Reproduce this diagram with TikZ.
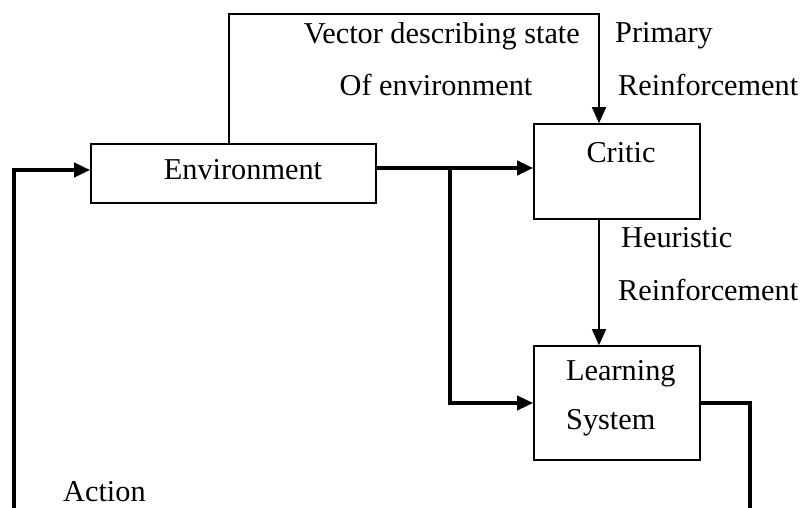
\documentclass[tikz,border=0pt]{standalone}
\usepackage{fontspec}
\setmainfont{Liberation Serif}
\usetikzlibrary{arrows.meta}
\begin{document}
\begin{tikzpicture}[x=1pt,y=-1pt,
  block/.style={draw,line width=1.6pt,inner sep=0pt},
  lbl/.style={inner sep=0pt,font=\fontsize{30.3}{34}\selectfont},
  thin/.style={line width=1.6pt},
  thick/.style={line width=3.6pt},
  tip/.style={-{Triangle[length=16pt,width=14pt]}}]
\useasboundingbox (0,0) rectangle (807,508);
% blocks
\node[block,minimum width=285pt,minimum height=59pt] (env) at (233.5,173.5) {};
\node[block,minimum width=166pt,minimum height=95pt] (critic) at (617,171.5) {};
\node[block,minimum width=166pt,minimum height=114pt] (learn) at (617,403) {};
% block texts
\node[lbl] (envt) at (243,170) {Environment};
\node[lbl] (critict) at (621,153) {Critic};
\node[lbl,anchor=west] (learnt) at (566,374) {Learning};
\node[lbl,anchor=west] (systemt) at (566,423) {System};
% labels
\node[lbl,anchor=east] (vec) at (580,36) {Vector describing state};
\node[lbl] (ofenv) at (436,85) {Of environment};
\node[lbl,anchor=west] (prim) at (615,36) {Primary};
\node[lbl,anchor=west] (prre) at (618,85) {Reinforcement};
\node[lbl,anchor=west] (heur) at (621,238) {Heuristic};
\node[lbl,anchor=west] (here) at (618,290) {Reinforcement};
\node[lbl,anchor=west] (act) at (63,492) {Action};
% junction and loose ends
\coordinate (split) at (450,168);
\coordinate (bl) at (14,508);
\coordinate (br) at (750,508);
% state vector to critic
\draw[thin,tip] (env.north -| 229,0) |- (599,14) -- (critic.north -| 599,0);
% environment output to critic
\draw[thick,tip] (env.east |- split) -- (critic.west |- split);
% branch to learning system
\draw[thick,tip] (split) |- (learn.west |- 0,403);
% heuristic reinforcement
\draw[thin,tip] (critic.south -| 599,0) -- (learn.north -| 599,0);
% action output and feedback
\draw[thick] (learn.east |- 0,403) -| (br);
\draw[thick,tip] (bl) |- (env.west |- 0,170);
\end{tikzpicture}
\end{document}
